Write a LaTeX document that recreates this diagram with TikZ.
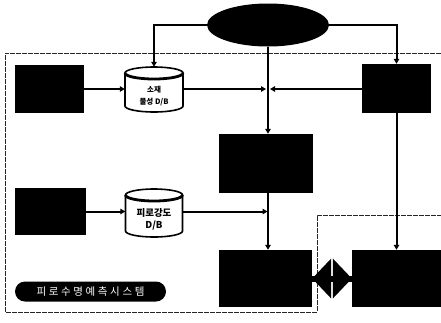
\documentclass[tikz,border=0pt]{standalone}
\usepackage{fontspec}
\newfontfamily\kr{Noto Sans CJK KR}
\newfontfamily\krsp[LetterSpace=25]{Noto Sans CJK KR}
\usetikzlibrary{shapes.geometric,arrows.meta,calc}
\begin{document}
\begin{tikzpicture}[x=1pt,y=-1pt,
  blk/.style={fill=black,inner sep=0pt},
  conn/.style={line width=2pt,-{Triangle[length=5pt,width=5.5pt]}},
  cylst/.style={fill=white,draw=black,line width=1.6pt},
  cyltext/.style={font=\kr\bfseries,align=center,inner sep=0pt},
  region/.style={line width=0.8pt,draw=black!85,dash pattern=on 5pt off 1pt}
]
\useasboundingbox (0,0) rectangle (441,322);
% region boundary
\draw[region] (441,53) -- (5,53) -- (5,312) -- (317,312) -- (317,215) -- (441,215);
% top ellipse
\node[ellipse,fill=black,minimum width=122pt,minimum height=43pt,inner sep=0pt] (top) at (268,25) {};
% boxes
\node[blk,minimum width=69pt,minimum height=48pt] (a1) at (49.5,89) {};
\node[blk,minimum width=71pt,minimum height=47pt] (a2) at (50.5,211.5) {};
\node[blk,minimum width=94pt,minimum height=59pt] (m1) at (266,163.5) {};
\node[blk,minimum width=69pt,minimum height=49pt] (r1) at (396.5,88.5) {};
\node[blk,minimum width=93pt,minimum height=57pt] (m2) at (265.5,278.5) {};
\node[blk,minimum width=90pt,minimum height=57pt] (r2) at (397,278.5) {};
% cylinder 1
\filldraw[cylst] (125,73) -- (125,106) arc[start angle=180,end angle=360,x radius=29pt,y radius=6pt] -- (183,73) arc[start angle=0,end angle=180,x radius=29pt,y radius=6pt] -- cycle;
\draw[line width=2.8pt] (125,73) arc[start angle=180,end angle=360,x radius=29pt,y radius=6pt];
\node[inner sep=0pt,minimum width=58pt,minimum height=45pt] (c1) at (154,89.5) {};
\node[cyltext,font=\kr\bfseries\fontsize{7.5}{11.5}\selectfont] (c1t) at (154,96) {소재\\물성 D/B};
% cylinder 2
\filldraw[cylst] (125.5,195) -- (125.5,231) arc[start angle=180,end angle=360,x radius=28.5pt,y radius=6pt] -- (182.5,195) arc[start angle=0,end angle=180,x radius=28.5pt,y radius=6pt] -- cycle;
\draw[line width=2.8pt] (125.5,195) arc[start angle=180,end angle=360,x radius=28.5pt,y radius=6pt];
\node[inner sep=0pt,minimum width=57pt,minimum height=48pt] (c2) at (154,213) {};
\node[cyltext,font=\kr\bfseries\fontsize{9.5}{12.5}\selectfont] (c2t) at (154,219.5) {피로강도\\D/B};
% crossing points
\coordinate (x1) at (top.south |- a1.east);
\coordinate (x2) at (top.south |- a2.east);
% connectors
\draw[conn] (top.west) -| (c1.north);
\draw[conn] (top.east) -| (r1.north);
\draw[conn] (top.south) -- (top.south |- m1.north);
\draw[conn] (a1.east) -- (a1.east -| c1.west);
\draw[conn,shorten >=2pt] (a1.east -| c1.east) -- (x1);
\draw[conn,shorten >=2pt] (r1.west |- x1) -- (x1);
\draw[conn] (a2.east) -- (a2.east -| c2.west);
\draw[conn,shorten >=0.5pt] (a2.east -| c2.east) -- (x2);
\draw[conn] (top.south |- m1.south) -- (top.south |- m2.north);
\draw[conn] (r1.south) -- (r1.south |- r2.north);
% double arrow between m2 and r2
\fill (m2.east) -- ++(19,-20) -- ++(0,40) -- cycle;
\fill (r2.west) -- ++(-19,-20) -- ++(0,40) -- cycle;
\draw[line width=6pt] (m2.east) -- (r2.west);
% label
\node[fill=black,rounded corners=10pt,text=white,minimum width=151pt,minimum height=20pt,inner sep=0pt,font=\krsp\fontsize{10.5}{12}\selectfont] (lbl) at (90.5,291.5) {피로수명예측시스템};
\end{tikzpicture}
\end{document}
